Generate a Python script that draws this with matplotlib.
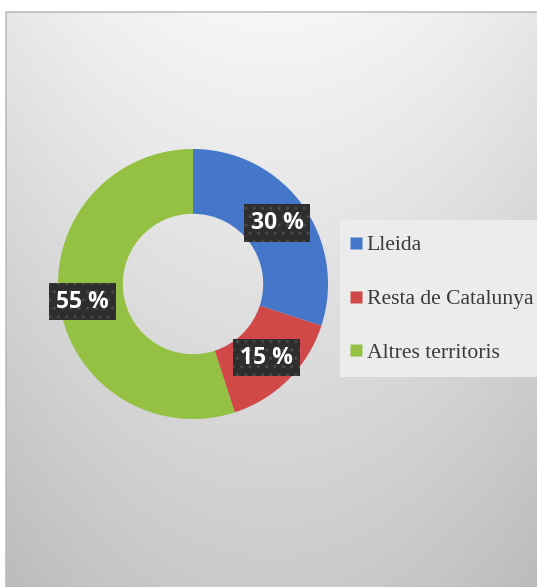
import numpy as np
import matplotlib.pyplot as plt
from matplotlib.patches import Rectangle
from matplotlib.lines import Line2D
from matplotlib.font_manager import FontProperties

labels = ["Lleida", "Resta de Catalunya", "Altres territoris"]
values = [30, 15, 55]
colors = ["#4477c9", "#d04848", "#94c143"]

W, H = 537, 587
fig = plt.figure(figsize=(W / 100, H / 100), dpi=100)
fig.patch.set_facecolor("white")

# fons amb degradat (zona del gràfic)
bg = fig.add_axes([6 / W, 0, 1 - 6 / W, 1 - 12 / H])
yy, xx = np.mgrid[0:1:200j, 0:1:200j]
shade = 0.965 - 0.17 * yy - 0.06 * ((xx - 0.5) * 2) ** 2
bg.imshow(np.dstack([shade] * 3), aspect="auto", extent=[0, 1, 0, 1], origin="upper")
bg.set_axis_off()
fig.add_artist(Rectangle((6 / W, -0.01), 1.1, 1 - 12 / H + 0.01, transform=fig.transFigure,
                         fill=False, edgecolor="#bdbdbd", linewidth=1.2))

# donut
cx, cy, r = 193, H - 284, 135
ax = fig.add_axes([(cx - r) / W, (cy - r) / H, 2 * r / W, 2 * r / H])
wedges, _ = ax.pie(values, colors=colors, startangle=90, counterclock=False,
                   wedgeprops=dict(width=0.48, linewidth=0))
ax.set_xlim(-1, 1)
ax.set_ylim(-1, 1)
ax.set_aspect("equal")
ax.set_axis_off()

for w, v in zip(wedges, values):
    ang = np.deg2rad((w.theta1 + w.theta2) / 2)
    d = 0.77 if v < 50 else 0.83
    ax.text(d * np.cos(ang), d * np.sin(ang), f"{v} %", ha="center", va="center",
            color="white", fontsize=16.5, fontweight="bold", family="Open Sans",
            bbox=dict(boxstyle="square,pad=0.3", facecolor="#2e2e2e",
                      edgecolor="#4a4a4a", hatch="..", linewidth=0))

# caixa de la llegenda
fig.add_artist(Rectangle((340 / W, 1 - 377 / H), 1, 157 / H, transform=fig.transFigure,
                         facecolor="#ececec", edgecolor="none"))
handles = [Line2D([], [], marker="s", linestyle="none", markersize=8.5,
                  markerfacecolor=c, markeredgecolor="none") for c in colors]
leg = fig.legend(handles, labels, loc="upper left", bbox_to_anchor=(346 / W, 1 - 231 / H),
                 frameon=False, handlelength=0.55, handletextpad=0.2,
                 labelspacing=1.55, borderpad=0.2, borderaxespad=0,
                 prop=FontProperties(family=["Liberation Serif", "DejaVu Serif"], size=15.6))
for t in leg.get_texts():
    t.set_color("#3a3a3a")

fig.savefig("out.png", dpi=100)
